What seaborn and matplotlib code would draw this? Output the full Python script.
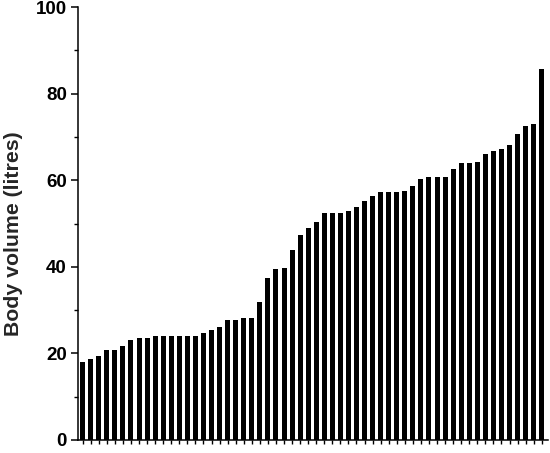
import matplotlib
matplotlib.use("Agg")
import matplotlib.pyplot as plt
import seaborn as sns
import pandas as pd
import numpy as np
from matplotlib.ticker import MultipleLocator

sns.set_style("ticks")
plt.rcParams['font.family'] = ['Liberation Sans', 'DejaVu Sans']

volumes = [18.1, 18.6, 19.4, 20.8, 20.8, 21.6, 23.2, 23.5, 23.5, 24.0,
           24.0, 24.0, 24.1, 24.1, 24.1, 24.7, 25.3, 26.0, 27.6, 27.7,
           28.2, 28.2, 31.8, 37.5, 39.6, 39.8, 43.9, 47.3, 49.0, 50.4,
           52.5, 52.5, 52.5, 52.9, 53.8, 55.3, 56.4, 57.2, 57.2, 57.2,
           57.5, 58.7, 60.3, 60.8, 60.8, 60.8, 62.5, 63.9, 63.9, 64.1,
           66.0, 66.8, 67.2, 68.1, 70.7, 72.6, 72.9, 85.6]
subjects = list(range(1, len(volumes) + 1))
yticks = [0, 20, 40, 60, 80, 100]

df = pd.DataFrame({"subject": subjects, "volume": volumes})

fig = plt.figure(figsize=(5.5, 4.53), dpi=100)
ax = fig.add_axes([0.1418, 0.0287, 0.9964 - 0.1418, 0.9845 - 0.0287])
sns.barplot(data=df, x="subject", y="volume", color="black", width=0.62,
            saturation=1, ax=ax, edgecolor="none")

ax.set_xlim(-0.58, len(volumes) - 1 + 0.78)
ax.set_ylim(0, 100)
ax.set_yticks(yticks)
ax.set_yticklabels([str(t) for t in yticks], fontsize=13.5, fontweight="bold")
ax.yaxis.set_minor_locator(MultipleLocator(10))
ax.set_xticks(range(len(volumes)))
ax.set_xticklabels([])
ax.set_xlabel("")
ax.set_ylabel("Body volume (litres)", fontsize=15.3, fontweight="bold")
ax.yaxis.set_label_coords(-0.118, 0.477)

for s in ["top", "right"]:
    ax.spines[s].set_visible(False)
for s in ["left", "bottom"]:
    ax.spines[s].set_linewidth(1.1)
    ax.spines[s].set_color("black")
ax.tick_params(axis="y", which="major", length=5, width=1.1, pad=3, colors="black")
ax.tick_params(axis="y", which="minor", length=3, width=1.0, colors="black")
ax.tick_params(axis="x", which="major", length=3, width=1.0, colors="black")

fig.savefig("out.png", dpi=100)
